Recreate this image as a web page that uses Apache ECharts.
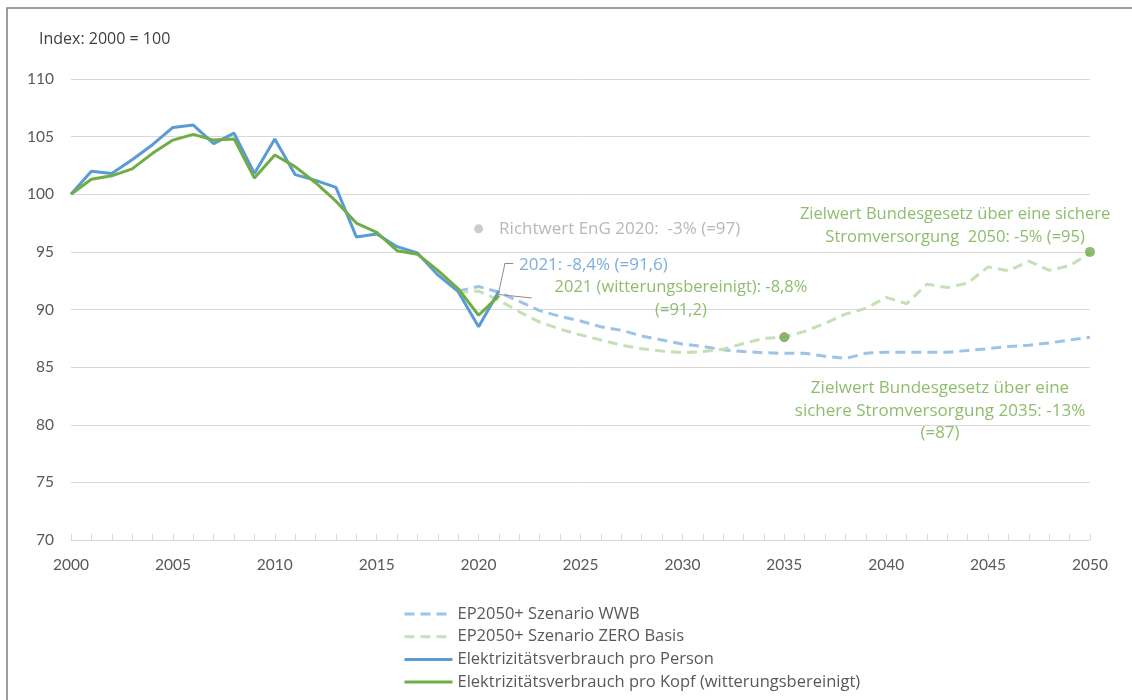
<!DOCTYPE html>
<html>
<head>
<meta charset="utf-8">
<script src="https://cdn.jsdelivr.net/npm/echarts@6/dist/echarts.min.js"></script>
<style>
  html, body { margin: 0; padding: 0; background: #fff; }
  #chart { width: 1132px; height: 700px; }
</style>
</head>
<body>
<div id="chart"></div>
<script>
// Werte (Index 2000 = 100)
const histYears = [2000, 2001, 2002, 2003, 2004, 2005, 2006, 2007, 2008, 2009, 2010,
  2011, 2012, 2013, 2014, 2015, 2016, 2017, 2018, 2019, 2020, 2021]
const proPerson = [100, 102.0, 101.8, 103.0, 104.3, 105.8, 106.0, 104.4, 105.3, 101.8, 104.8,
  101.7, 101.2, 100.6, 96.3, 96.55, 95.45, 94.9, 93.0, 91.55, 88.5, 91.6]
const proKopf = [100, 101.3, 101.6, 102.2, 103.55, 104.7, 105.2, 104.7, 104.8, 101.4, 103.4,
  102.4, 101.0, 99.4, 97.5, 96.7, 95.1, 94.8, 93.4, 91.8, 89.5, 91.2]

const scenYears = [2019, 2020, 2021, 2022, 2023, 2024, 2025, 2026, 2027, 2028, 2029, 2030,
  2031, 2032, 2033, 2034, 2035, 2036, 2037, 2038, 2039, 2040, 2041, 2042, 2043, 2044,
  2045, 2046, 2047, 2048, 2049, 2050]
const szenarioWWB = [91.6, 92.0, 91.5, 90.7, 89.9, 89.4, 89.0, 88.5, 88.2, 87.7, 87.35, 87.0,
  86.8, 86.5, 86.35, 86.25, 86.2, 86.2, 85.95, 85.75, 86.2, 86.3, 86.3, 86.3, 86.3, 86.45,
  86.6, 86.8, 86.9, 87.1, 87.35, 87.6]
const szenarioZero = [91.5, 91.6, 90.8, 89.8, 88.9, 88.3, 87.8, 87.35, 86.9, 86.6, 86.4, 86.25,
  86.35, 86.55, 87.05, 87.5, 87.6, 88.1, 88.8, 89.6, 90.1, 91.05, 90.5, 92.2, 91.9, 92.3,
  93.7, 93.35, 94.2, 93.4, 93.8, 94.9]

const richtwert = [2020, 97]
const zielwert2035 = [2035, 87.6]
const zielwert2050 = [2050, 95]

const xTicks = { min: 2000, max: 2050, step: 5 }
const yTicks = { min: 70, max: 110, step: 5 }

const zip = (xs, ys) => xs.map((x, i) => [x, ys[i]])

const textGrey = '#595959'
const axisFont = 'Lato'
const textFont = 'Open Sans'

var chartDom = document.getElementById('chart');
var myChart = echarts.init(chartDom);

var option = {
  animation: false,
  textStyle: { fontFamily: textFont },
  title: {
    text: 'Index: 2000 = 100',
    left: 34,
    top: 26,
    textStyle: { fontSize: 16, fontWeight: 'normal', color: '#404040', fontFamily: textFont }
  },
  graphic: [{
    type: 'rect',
    shape: { x: 7, y: 8, width: 1200, height: 800 },
    style: { fill: 'none', stroke: '#7f7f7f', lineWidth: 1.5 },
    silent: true
  }],
  grid: { left: 71, right: 42, top: 79, bottom: 160 },
  legend: {
    orient: 'vertical',
    left: 403,
    top: 605,
    padding: 0,
    height: 95,
    itemWidth: 48,
    itemHeight: 14,
    itemGap: 4.7,
    itemStyle: { opacity: 0 },
    lineStyle: { width: 3 },
    data: ['EP2050+ Szenario WWB', 'EP2050+ Szenario ZERO Basis',
      'Elektrizitätsverbrauch pro Person', 'Elektrizitätsverbrauch pro Kopf (witterungsbereinigt)'],
    textStyle: { fontSize: 16.5, color: textGrey, lineHeight: 18, fontFamily: textFont }
  },
  xAxis: {
    type: 'value',
    min: xTicks.min,
    max: xTicks.max,
    interval: xTicks.step,
    axisLine: { show: true, lineStyle: { color: '#d9d9d9', width: 1 } },
    axisTick: { show: true, inside: true, length: 6, lineStyle: { color: '#d9d9d9' } },
    minorTick: { show: true, splitNumber: 5, length: 6, lineStyle: { color: '#d9d9d9' } },
    splitLine: { show: false },
    axisLabel: { fontSize: 15.5, color: textGrey, margin: 17, fontFamily: axisFont,
      formatter: v => String(v) }
  },
  yAxis: {
    type: 'value',
    min: yTicks.min,
    max: yTicks.max,
    interval: yTicks.step,
    axisLine: { show: false },
    axisTick: { show: false },
    splitLine: { lineStyle: { color: '#d9d9d9', width: 1 } },
    axisLabel: { fontSize: 15.5, color: textGrey, margin: 17, fontFamily: axisFont }
  },
  series: [
    {
      name: 'EP2050+ Szenario WWB',
      type: 'line',
      data: zip(scenYears, szenarioWWB),
      symbol: 'none',
      lineStyle: { color: '#9dc3e6', width: 3, type: [10, 6] },
      itemStyle: { color: '#9dc3e6' },
      z: 2
    },
    {
      name: 'EP2050+ Szenario ZERO Basis',
      type: 'line',
      data: zip(scenYears, szenarioZero),
      symbol: 'none',
      lineStyle: { color: '#c5e0b4', width: 3, type: [10, 6] },
      itemStyle: { color: '#c5e0b4' },
      z: 2
    },
    {
      name: 'Elektrizitätsverbrauch pro Person',
      type: 'line',
      data: zip(histYears, proPerson),
      symbol: 'none',
      lineStyle: { color: '#5b9bd5', width: 3 },
      itemStyle: { color: '#5b9bd5' },
      z: 3
    },
    {
      name: 'Elektrizitätsverbrauch pro Kopf (witterungsbereinigt)',
      type: 'line',
      data: zip(histYears, proKopf),
      symbol: 'none',
      lineStyle: { color: '#70ad47', width: 3 },
      itemStyle: { color: '#70ad47' },
      z: 4,
      markLine: {
        silent: true,
        symbol: 'none',
        lineStyle: { color: '#8c8c8c', width: 1, type: 'solid' },
        label: { show: false },
        data: [
          [{ coord: [2021, 91.6] }, { coord: [2021.3, 94.05] }],
          [{ coord: [2021.3, 94.05] }, { coord: [2021.7, 94.05] }],
          [{ coord: [2021, 91.3] }, { coord: [2022.6, 91.0] }]
        ]
      }
    },
    {
      name: 'Zielwerte',
      type: 'scatter',
      z: 5,
      data: [
        {
          value: richtwert,
          symbolSize: 9,
          itemStyle: { color: '#bfbfbf' },
          label: {
            show: true, position: 'right', distance: 16,
            formatter: 'Richtwert EnG 2020:  -3% (=97)',
            color: '#a6a6a6', fontSize: 17, fontFamily: textFont
          }
        },
        {
          value: zielwert2035,
          symbolSize: 9,
          itemStyle: { color: '#70ad47', borderColor: '#7f7f7f', borderWidth: 1 }
        },
        {
          value: zielwert2050,
          symbolSize: 10,
          itemStyle: { color: '#70ad47' }
        }
      ]
    },
    {
      name: 'Beschriftung',
      type: 'scatter',
      symbolSize: 0,
      silent: true,
      z: 6,
      label: { show: true, fontSize: 16.5, lineHeight: 22.5, fontFamily: textFont },
      data: [
        {
          value: [2021.98, 93.86],
          label: { position: 'right', distance: 0, align: 'left', color: '#5b9bd5',
            formatter: '2021: -8,4% (=91,6)', fontSize: 17 }
        },
        {
          value: [2029.93, 90.91],
          label: { position: 'inside', align: 'center', color: '#70ad47',
            formatter: '2021 (witterungsbereinigt): -8,8%\n(=91,2)' }
        },
        {
          value: [2043.38, 97.25],
          label: { position: 'inside', align: 'center', color: '#70ad47',
            formatter: 'Zielwert Bundesgesetz über eine sichere\nStromversorgung  2050: -5% (=95)' }
        },
        {
          value: [2042.64, 81.19],
          label: { position: 'inside', align: 'center', color: '#70ad47',
            formatter: 'Zielwert Bundesgesetz über eine\nsichere Stromversorgung 2035: -13%\n(=87)', fontSize: 17 }
        }
      ]
    }
  ]
};

option && myChart.setOption(option);
</script>
</body>
</html>
